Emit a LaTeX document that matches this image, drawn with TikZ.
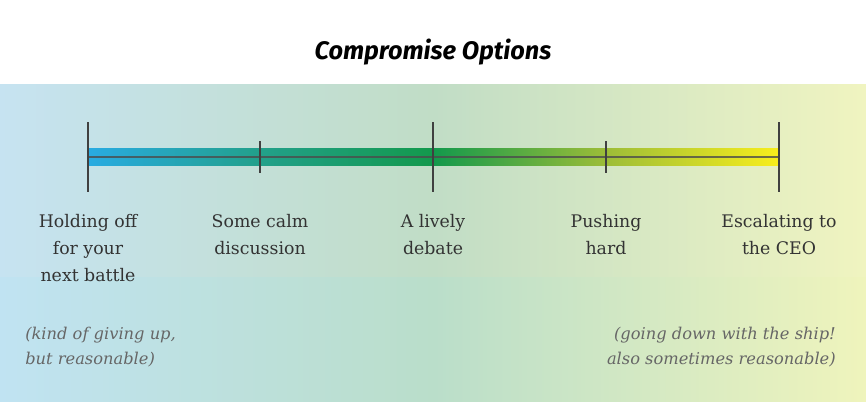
\documentclass[tikz,border=0pt]{standalone}
\usepackage{fontspec}
\setmainfont{DejaVu Serif}
\newfontfamily\titlefont{Fira Sans}
\usetikzlibrary{positioning}
\definecolor{bgblue}{HTML}{C6E3F1}
\definecolor{bggreen}{HTML}{C1DDC6}
\definecolor{bgyellow}{HTML}{F0F4C0}
\definecolor{lowblue}{HTML}{C0E3F2}
\definecolor{lowgreen}{HTML}{BADECA}
\definecolor{lowyellow}{HTML}{EFF4BC}
\definecolor{barblue}{HTML}{29ABE2}
\definecolor{barteal}{HTML}{22A08A}
\definecolor{bargreen}{HTML}{13994C}
\definecolor{barolive}{HTML}{9DBD38}
\definecolor{baryellow}{HTML}{F8EE1C}
\definecolor{textgray}{HTML}{333333}
\definecolor{notegray}{HTML}{666666}
\pgfdeclarehorizontalshading{bgshade}{100bp}{color(0bp)=(bgblue); color(25bp)=(bgblue); color(50bp)=(bggreen); color(75bp)=(bgyellow); color(100bp)=(bgyellow)}
\pgfdeclarehorizontalshading{lowshade}{100bp}{color(0bp)=(lowblue); color(25bp)=(lowblue); color(50bp)=(lowgreen); color(75bp)=(lowyellow); color(100bp)=(lowyellow)}
\pgfdeclarehorizontalshading{barshade}{100bp}{color(0bp)=(barblue); color(25bp)=(barblue); color(37.5bp)=(barteal); color(50bp)=(bargreen); color(62.5bp)=(barolive); color(75bp)=(baryellow); color(100bp)=(baryellow)}

\begin{document}
\begin{tikzpicture}[x=0.75pt, y=-0.75pt,
    option/.style={align=center, inner sep=0pt, font=\fontsize{13}{20.3}\selectfont, text=textgray},
    note/.style={inner sep=0pt, font=\fontsize{12.2}{19}\selectfont\itshape, text=notegray},
    longtick/.style={line width=1pt, draw=black!75},
    shorttick/.style={line width=1pt, draw=black!75}]
\useasboundingbox (0,0) rectangle (866,402);
% background
\shade[shading=bgshade] (0,85) rectangle (866,278);
\shade[shading=lowshade] (0,278) rectangle (866,402);
\node[font=\titlefont\fontsize{19}{22}\selectfont\bfseries\itshape] (title) at (433,52) {Compromise Options};

% the scale
\foreach \i/\x in {1/88, 2/260, 3/433, 4/606, 5/779}
  \coordinate (t\i) at (\x,157);
\shade[shading=barshade] ([yshift=-6.5]t1) rectangle ([yshift=6.5]t5);
\draw[line width=1.5pt, draw=black!70, opacity=0.8] (t1) -- (t5);
\foreach \i in {1,3,5}
  \draw[longtick] ([yshift=-26]t\i) -- ([yshift=26]t\i);
\foreach \i in {2,4}
  \draw[shorttick] ([yshift=-12]t\i) -- ([yshift=12]t\i);

% labels
\node[option, below=42.5pt of t1] (hold) {Holding off\\for your\\next battle};
\node[option, below=42.5pt of t2] (calm) {Some calm\\discussion};
\node[option, below=42.5pt of t3] (debate) {A lively\\debate};
\node[option, below=42.5pt of t4] (push) {Pushing\\hard};
\node[option, below=42.5pt of t5] (ceo) {Escalating to\\the CEO};

\node[note, align=left, anchor=north west] (giveup) at (25,327) {(kind of giving up,\\but reasonable)};
\node[note, align=right, anchor=north east] (ship) at (836,327) {(going down with the ship!\\also sometimes reasonable)};
\end{tikzpicture}
\end{document}
